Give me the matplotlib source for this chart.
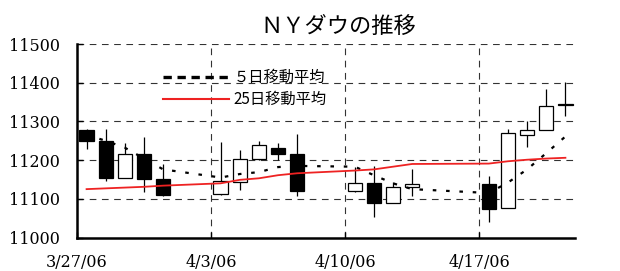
import matplotlib
matplotlib.use("Agg")
import matplotlib.pyplot as plt
import matplotlib.dates as mdates
from matplotlib.lines import Line2D
import numpy as np
import pandas as pd

# daily data (4/14 market closed)
dates = ["2006-03-27", "2006-03-28", "2006-03-29", "2006-03-30", "2006-03-31",
         "2006-04-03", "2006-04-04", "2006-04-05", "2006-04-06", "2006-04-07",
         "2006-04-10", "2006-04-11", "2006-04-12", "2006-04-13",
         "2006-04-17", "2006-04-18", "2006-04-19", "2006-04-20", "2006-04-21"]
opens = [11278, 11250, 11153, 11216, 11151, 11113, 11143, 11202, 11232, 11217,
         11120, 11140, 11089, 11131, 11138, 11075, 11265, 11277, 11346]
highs = [11280, 11281, 11244, 11260, 11191, 11247, 11226, 11250, 11245, 11268,
         11183, 11185, 11144, 11177, 11160, 11281, 11301, 11383, 11403]
lows = [11229, 11146, 11153, 11117, 11106, 11110, 11123, 11200, 11200, 11108,
        11118, 11053, 11089, 11106, 11039, 11075, 11233, 11277, 11315]
closes = [11249, 11153, 11216, 11150, 11109, 11145, 11202, 11238, 11215, 11121,
          11140, 11090, 11130, 11137, 11074, 11270, 11277, 11340, 11342]
ma5 = [11265, 11250, 11232, 11204, 11176, 11155, 11164, 11169, 11182, 11185,
       11183, 11161, 11140, 11125, 11115, 11142, 11176, 11218, 11261]
ma25 = [11125, 11127, 11129, 11131, 11134, 11140, 11149, 11153, 11161, 11166,
        11173, 11176, 11183, 11190, 11191, 11197, 11201, 11204, 11206]

tick_dates = ["2006-03-27", "2006-04-03", "2006-04-10", "2006-04-17"]
tick_labels = ["3/27/06", "4/3/06", "4/10/06", "4/17/06"]
x_start, x_end = "2006-03-27", "2006-04-22"

title = "ＮＹダウの推移"
label5 = "５日移動平均"
label25 = "25日移動平均"

jp = ["Noto Sans CJK JP", "DejaVu Sans"]
num_font = "DejaVu Serif"

x = mdates.date2num(pd.to_datetime(dates)) + 0.5  # center of each day slot
o = np.array(opens)
c = np.array(closes)

fig = plt.figure(figsize=(6.2, 2.71), dpi=100)
ax = fig.add_axes([0.1242, 0.1236, 0.8032, 0.714])

# grid
for yv in [11100, 11200, 11300, 11400, 11500]:
    ax.axhline(yv, color="#333333", lw=0.8, dashes=(6, 5), zorder=0)
for td in tick_dates[1:]:
    ax.axvline(mdates.date2num(pd.Timestamp(td)), color="#333333", lw=0.8, dashes=(6, 5), zorder=0)

# candles
w = 0.75
ax.vlines(x, lows, highs, color="black", lw=0.9, zorder=2)
up = c >= o
bottoms = np.minimum(o, c)
heights = np.maximum(np.abs(c - o), 1.5)
ax.bar(x[up], heights[up], w, bottom=bottoms[up], color="white", edgecolor="black", lw=0.9, zorder=3)
ax.bar(x[~up], heights[~up], w, bottom=bottoms[~up], color="black", edgecolor="black", lw=0.9, zorder=3)

# moving averages
ax.plot(x, ma5, color="black", lw=1.6, dashes=(1.6, 4.4), zorder=4)
ax.plot(x, ma25, color="#ee2222", lw=1.3, zorder=4)

ax.set_xlim(mdates.date2num(pd.Timestamp(x_start)), mdates.date2num(pd.Timestamp(x_end)))
ax.set_ylim(11000, 11500)
ax.set_yticks([11000, 11100, 11200, 11300, 11400, 11500])
ax.set_xticks(mdates.date2num(pd.to_datetime(tick_dates)))
ax.set_xticklabels(tick_labels)

for s in ["top", "right"]:
    ax.spines[s].set_visible(False)
for s in ["left", "bottom"]:
    ax.spines[s].set_linewidth(1.8)
ax.tick_params(axis="y", direction="in", length=4, width=1, pad=12)
ax.tick_params(axis="x", direction="in", length=4, width=1, pad=12)
for lab in ax.get_xticklabels() + ax.get_yticklabels():
    lab.set_fontfamily(num_font)
    lab.set_fontsize(11.5)

ax.set_title(title, family=jp, fontsize=16, pad=8, x=0.525)

handles = [Line2D([], [], color="black", lw=2.4, dashes=(2.5, 1.7)),
           Line2D([], [], color="#ee2222", lw=1.5)]
leg = ax.legend(handles, [label5, label25], loc="upper left", bbox_to_anchor=(0.145, 0.94),
                frameon=False, handlelength=4.3, handletextpad=0.3, labelspacing=0.3,
                prop={"family": jp, "size": 11})

plt.savefig("out.png", dpi=100)
